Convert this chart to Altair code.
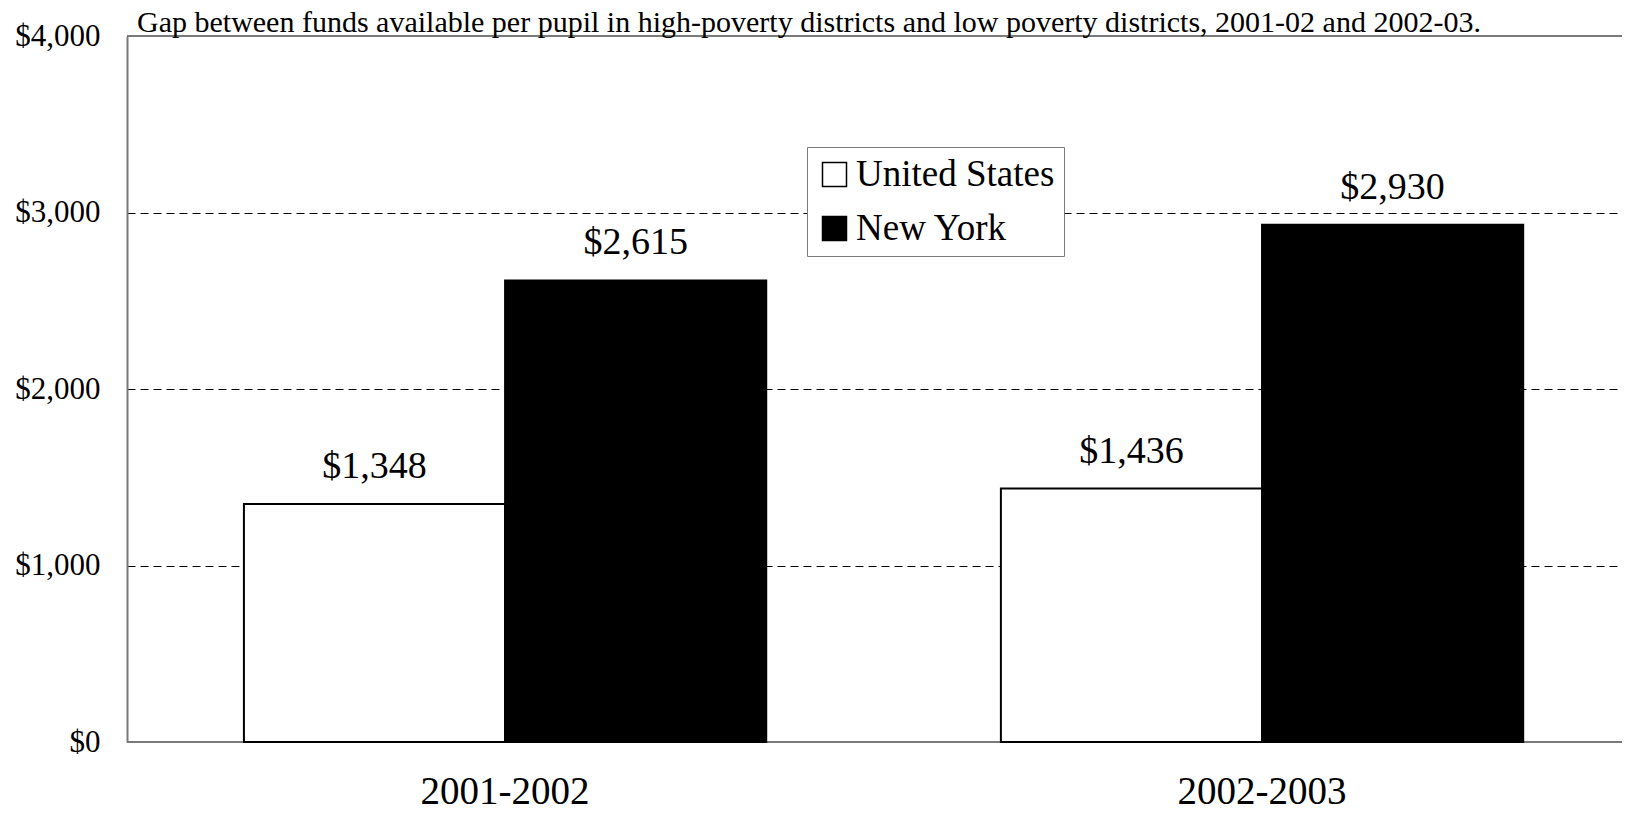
import altair as alt
import pandas as pd

years = ["2001-2002", "2002-2003"]
series = ["United States", "New York"]
us_values = [1348, 1436]
ny_values = [2615, 2930]
y_ticks = [0, 1000, 2000, 3000, 4000]
frame_values = [0, 4000]
title_text = "Gap between funds available per pupil in high-poverty districts and  low poverty districts, 2001-02 and 2002-03."

rows = []
for i, yr in enumerate(years):
    rows.append({"year": yr, "series": series[0], "value": us_values[i]})
    rows.append({"year": yr, "series": series[1], "value": ny_values[i]})
df = pd.DataFrame(rows)
frame_df = pd.DataFrame({"value": frame_values})
title_df = pd.DataFrame({"t": [title_text]})

FONT = "Liberation Serif"
FRAME = "#7a7a7a"

x_enc = alt.X(
    "year:N",
    sort=years,
    scale=alt.Scale(paddingInner=0.31, paddingOuter=0.1425, align=0.542),
    axis=alt.Axis(
        title=None, labelAngle=0, ticks=False, tickSize=0, domain=False,
        labelFont=FONT, labelFontSize=39, labelColor="black",
        labelBaseline="alphabetic", labelPadding=61,
    ),
)
y_enc = alt.Y(
    "value:Q",
    scale=alt.Scale(domain=[0, 4000], nice=False),
    axis=alt.Axis(
        title=None, values=y_ticks, format="$,.0f", ticks=False, tickSize=0,
        domain=True, domainColor=FRAME, domainWidth=2,
        labelFont=FONT, labelFontSize=31, labelColor="black",
        labelPadding=27, labelBaseline="middle",
        grid=True, gridColor="#000000", gridWidth=1, gridDash=[8, 5],
        gridOpacity={"condition": {"test": "datum.value === 0 || datum.value === 4000", "value": 0}, "value": 1},
    ),
)
xoff = alt.XOffset("series:N", sort=series, scale=alt.Scale(paddingInner=0, paddingOuter=0))

frame = alt.Chart(frame_df).mark_rule(color=FRAME, strokeWidth=2).encode(
    y=alt.Y("value:Q")
)

bars = alt.Chart(df).mark_bar(stroke="black", strokeWidth=2).encode(
    x=x_enc,
    y=y_enc,
    xOffset=xoff,
    fill=alt.Fill(
        "series:N",
        sort=series,
        scale=alt.Scale(domain=series, range=["white", "black"]),
        legend=alt.Legend(
            title=None, orient="none", legendX=680, legendY=111,
            symbolType="square", symbolSize=576, symbolStrokeColor="black",
            symbolStrokeWidth=1.5, labelFont=FONT, labelFontSize=37,
            labelColor="black", labelOffset=3, labelLimit=0,
            fillColor="white", strokeColor=FRAME, padding=9, rowPadding=16,
        ),
    ),
)

labels = alt.Chart(df).mark_text(
    baseline="alphabetic", dy=-26, font=FONT, fontSize=38, color="black"
).encode(
    x=alt.X("year:N", sort=years),
    y=alt.Y("value:Q"),
    xOffset=xoff,
    text=alt.Text("value:Q", format="$,.0f"),
)

title = alt.Chart(title_df).mark_text(
    align="left", baseline="alphabetic", font=FONT, fontSize=30, color="black"
).encode(
    x=alt.value(10),
    y=alt.value(-4),
    text="t:N",
)

chart = alt.layer(frame, bars, labels, title).properties(
    width=1495,
    height=706,
    autosize=alt.AutoSizeParams(type="none"),
    padding={"left": 119, "top": 28, "right": 0, "bottom": 62},
).configure_view(
    stroke=None
).configure(background="white")

chart.save("out.html", embed_options={"renderer": "svg", "actions": False})
